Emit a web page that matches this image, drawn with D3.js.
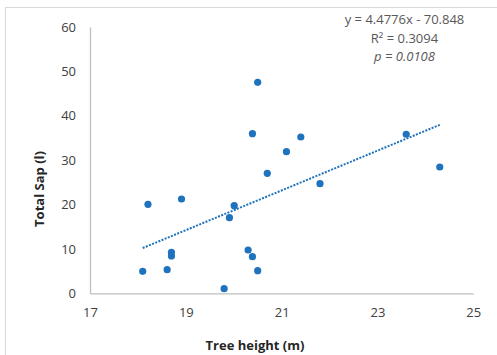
<!DOCTYPE html>
<html>
<head>
<meta charset="utf-8">
<script src="https://cdn.jsdelivr.net/npm/d3@7"></script>
<style>
  html, body { margin: 0; padding: 0; background: #fff; }
  svg { display: block; }
</style>
</head>
<body>
<svg id="chart" width="497" height="355"></svg>
<script>
// Data
const treeHeight = [18.10, 18.21, 18.61, 18.70, 18.70, 18.91, 19.80, 19.91, 20.01, 20.30,
                    20.39, 20.50, 20.50, 20.39, 21.40, 21.10, 20.70, 21.80, 23.60, 24.30];
const totalSap   = [4.96, 20.05, 5.32, 9.24, 8.40, 21.25, 1.04, 17.03, 19.74, 9.76,
                    8.25, 5.09, 47.54, 35.96, 35.22, 31.91, 27.04, 24.70, 35.83, 28.46];
const xTicks = [17, 19, 21, 23, 25];
const yTicks = [0, 10, 20, 30, 40, 50, 60];
const slope = 4.4776, intercept = -70.848;
const annotations = ["y = 4.4776x - 70.848", "R² = 0.3094", "p = 0.0108"];
const xTitle = "Tree height (m)";
const yTitle = "Total Sap (l)";

const svg = d3.select("#chart");
const font = "'Open Sans', 'Liberation Sans', sans-serif";
const blue = "#1f72bd";

// chart-area border
svg.append("rect").attr("x", 5.5).attr("y", 7.5).attr("width", 520).attr("height", 420)
  .attr("fill", "none").attr("stroke", "#d9d9d9").attr("stroke-width", 1);

const x = d3.scaleLinear().domain([17, 25]).range([90, 473.3]);
const y = d3.scaleLinear().domain([0, 60]).range([293.3, 27]);

// axes
const xAxis = svg.append("g").attr("transform", `translate(0,${y(0)})`)
  .call(d3.axisBottom(x).tickValues(xTicks).tickSize(0).tickPadding(14).tickFormat(d3.format("d")));
const yAxis = svg.append("g").attr("transform", `translate(${x(17)},0)`)
  .call(d3.axisLeft(y).tickValues(yTicks).tickSize(0).tickPadding(14).tickFormat(d3.format("d")));
[xAxis, yAxis].forEach(g => {
  g.select(".domain").attr("stroke", "#bfbfbf").attr("stroke-width", 1.3);
  g.selectAll("text").attr("font-family", font).attr("font-size", 13).attr("fill", "#404040");
});

// trend line
const xmin = d3.min(treeHeight), xmax = d3.max(treeHeight);
svg.append("line")
  .attr("x1", x(xmin)).attr("y1", y(slope * xmin + intercept))
  .attr("x2", x(xmax)).attr("y2", y(slope * xmax + intercept))
  .attr("stroke", blue).attr("stroke-width", 2).attr("stroke-dasharray", "2,1.4");

// points
svg.append("g").selectAll("circle")
  .data(treeHeight.map((h, i) => [h, totalSap[i]]))
  .join("circle")
  .attr("cx", d => x(d[0])).attr("cy", d => y(d[1])).attr("r", 3.6)
  .attr("fill", blue);

// annotations
const ann = svg.append("g").attr("font-family", font).attr("font-size", 13).attr("fill", "#595959")
  .attr("text-anchor", "middle");
annotations.forEach((t, i) => {
  ann.append("text").attr("x", 404.5).attr("y", 24 + i * 18.5)
    .attr("font-style", i === 2 ? "italic" : "normal").text(t);
});

// axis titles
svg.append("text").attr("x", 255).attr("y", 350).attr("text-anchor", "middle")
  .attr("font-family", font).attr("font-size", 13).attr("font-weight", "bold").attr("fill", "#262626")
  .text(xTitle);
svg.append("text").attr("transform", "translate(44,189) rotate(-90)").attr("text-anchor", "middle")
  .attr("font-family", font).attr("font-size", 13).attr("font-weight", "bold").attr("fill", "#262626")
  .text(yTitle);
</script>
</body>
</html>
